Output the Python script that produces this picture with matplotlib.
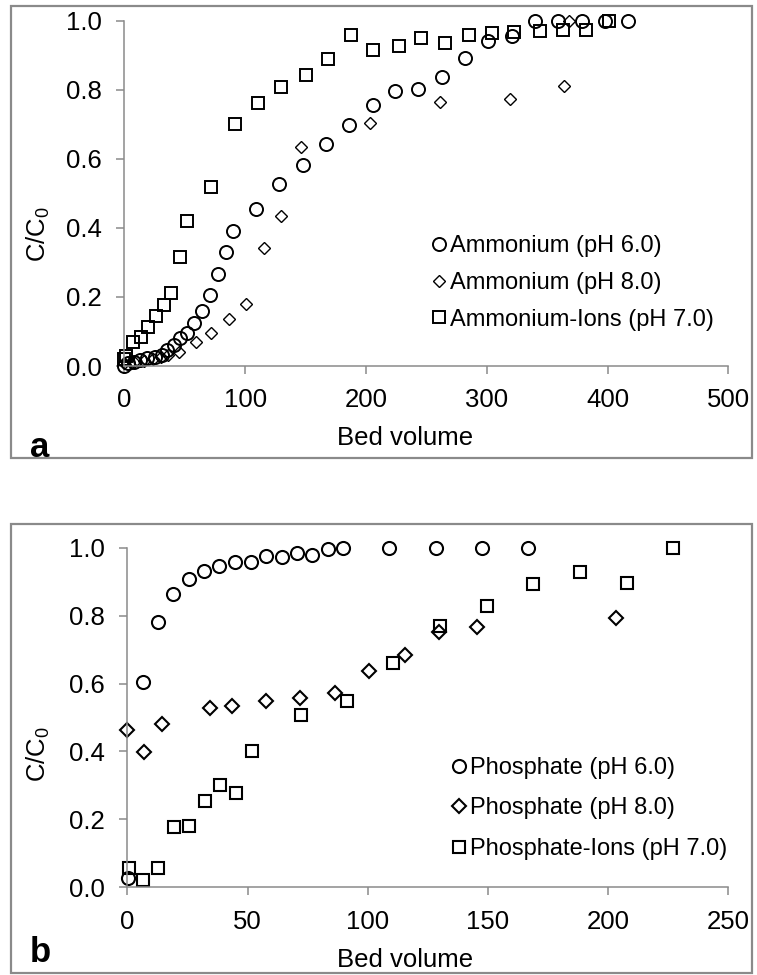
import matplotlib
matplotlib.use("Agg")
import matplotlib.pyplot as plt
from matplotlib.patches import Rectangle

plt.rcParams['font.family'] = ['Liberation Sans', 'DejaVu Sans']
plt.rcParams['mathtext.fontset'] = 'custom'
plt.rcParams['mathtext.rm'] = 'Liberation Sans'
plt.rcParams['mathtext.it'] = 'Liberation Sans:italic'

# ---------------- Panel a data ----------------
amm6_x = [0, 3, 8, 13, 19, 25, 31, 35, 41, 46, 52, 58, 64.6, 71, 77.6, 84, 89.7,
          109, 128, 147.7, 167, 186, 205.6, 224, 243, 263, 282, 301, 320.7,
          340, 359, 378.6, 398, 417]
amm6_y = [0.0, 0.008, 0.012, 0.017, 0.022, 0.027, 0.033, 0.045, 0.062, 0.08,
          0.097, 0.124, 0.16, 0.206, 0.266, 0.331, 0.392, 0.454, 0.527, 0.582,
          0.642, 0.698, 0.756, 0.797, 0.801, 0.836, 0.891, 0.942, 0.956,
          1.0, 1.0, 1.0, 1.0, 1.0]
amm8_x = [0, 8, 16, 24, 30, 36, 45, 59, 72, 87, 101, 115.6, 130, 146, 203, 261, 319, 364, 368]
amm8_y = [0.01, 0.012, 0.015, 0.02, 0.025, 0.032, 0.041, 0.07, 0.095, 0.136, 0.18,
          0.341, 0.434, 0.635, 0.705, 0.765, 0.773, 0.811, 1.0]
ions7_x = [0, 1.4, 7, 13.5, 20, 26, 33, 39, 46, 52, 72, 91.6, 111, 130, 150, 169,
           188, 206, 227, 246, 265.5, 285, 304, 323, 344, 363, 382, 401.5]
ions7_y = [0.02, 0.03, 0.07, 0.085, 0.114, 0.145, 0.177, 0.21, 0.317, 0.42, 0.517,
           0.70, 0.763, 0.809, 0.843, 0.888, 0.959, 0.915, 0.927, 0.949, 0.936,
           0.959, 0.963, 0.968, 0.971, 0.973, 0.973, 1.0]
labels_a = ["Ammonium (pH 6.0)", "Ammonium (pH 8.0)", "Ammonium-Ions (pH 7.0)"]
xticks_a = [0, 100, 200, 300, 400, 500]

# ---------------- Panel b data ----------------
p6_x = [0.4, 6.4, 12.9, 19.1, 25.7, 31.9, 38.3, 44.8, 51.3, 57.6, 64.2, 70.5, 77,
        83.6, 89.9, 109, 128.3, 147.4, 166.7]
p6_y = [0.026, 0.605, 0.782, 0.864, 0.907, 0.931, 0.947, 0.957, 0.959, 0.976,
        0.974, 0.983, 0.978, 0.995, 0.998, 1.0, 1.0, 1.0, 1.0]
p8_x = [0, 7.1, 14.6, 34.4, 43.4, 57.6, 71.8, 86.4, 100.7, 115.5, 129.8, 145.6, 203.3]
p8_y = [0.463, 0.397, 0.481, 0.527, 0.534, 0.549, 0.556, 0.571, 0.638, 0.684,
        0.753, 0.767, 0.792]
pi_x = [0.7, 6.7, 12.9, 19.4, 25.8, 32.3, 38.6, 45.2, 51.7, 72.1, 91.5, 110.7,
        130, 149.5, 168.9, 188.3, 207.7, 226.9]
pi_y = [0.056, 0.021, 0.056, 0.178, 0.18, 0.255, 0.301, 0.277, 0.401, 0.507,
        0.549, 0.66, 0.77, 0.828, 0.892, 0.928, 0.895, 0.998]
labels_b = ["Phosphate (pH 6.0)", "Phosphate (pH 8.0)", "Phosphate-Ions (pH 7.0)"]
xticks_b = [0, 50, 100, 150, 200, 250]
yticks = [0.0, 0.2, 0.4, 0.6, 0.8, 1.0]

W, H = 757, 975
fig = plt.figure(figsize=(W / 100, H / 100), dpi=100)

GRAY = '#8a8a8a'
FS = 18.5
LFS = 17


def frame(x0, y0, x1, y1):
    fig.add_artist(Rectangle((x0 / W, 1 - y1 / H), (x1 - x0) / W, (y1 - y0) / H,
                             transform=fig.transFigure, fill=False,
                             edgecolor=GRAY, lw=1.6))


def make_axes(left, right, top, bottom):
    return fig.add_axes([left / W, 1 - bottom / H, (right - left) / W, (bottom - top) / H])


def style(ax, xmax, xticks, xlab_pos, ylab_pos):
    ax.set_xlim(0, xmax)
    ax.set_ylim(0, 1.0)
    ax.set_xticks(xticks)
    ax.set_yticks(yticks)
    ax.set_yticklabels([f"{v:.1f}" for v in yticks])
    for s in ['top', 'right']:
        ax.spines[s].set_visible(False)
    for s in ['left', 'bottom']:
        ax.spines[s].set_color(GRAY)
        ax.spines[s].set_linewidth(1.1)
    ax.tick_params(direction='out', length=6, width=1.1, color=GRAY,
                   labelsize=FS, pad=10, labelcolor='black')
    ax.set_xlabel("Bed volume", fontsize=FS)
    ax.set_ylabel(r"C/C$_\mathregular{0}$", fontsize=FS)
    ax.xaxis.set_label_coords(*xlab_pos)
    ax.xaxis.label.set_va('center')
    ax.yaxis.set_label_coords(*ylab_pos)
    ax.yaxis.label.set_va('center')
    ax.patch.set_alpha(0)


# ---------------- Panel a ----------------
frame(11, 6, 752, 458)
axa = make_axes(124.3, 728.3, 20.7, 366)
kw = dict(linestyle='none', markerfacecolor='none', markeredgecolor='black', clip_on=False)
axa.plot(amm6_x, amm6_y, marker='o', markersize=9.4, markeredgewidth=1.4, label=labels_a[0], **kw)
axa.plot(amm8_x, amm8_y, marker='D', markersize=6.2, markeredgewidth=1.0, label=labels_a[1], **kw)
axa.plot(ions7_x, ions7_y, marker='s', markersize=9.0, markeredgewidth=1.4, label=labels_a[2], **kw)
style(axa, 500, xticks_a, ((405 - 124.3) / 604, (366 - 438) / 345.3),
      ((38 - 124.3) / 604, (366 - 234) / 345.3))
axa.legend(loc='upper left', bbox_to_anchor=((432 - 124.3) / 604, (366 - 235) / 345.3),
           frameon=False, fontsize=LFS, handlelength=0.6, handletextpad=0.15,
           labelspacing=0.63, borderpad=0, borderaxespad=0, markerscale=1.0)
fig.text(40 / W, 1 - 457 / H, 'a', fontsize=25, fontweight='heavy', ha='center', va='baseline')

# ---------------- Panel b ----------------
frame(11, 524, 752, 973)
axb = make_axes(127.3, 728.3, 547.7, 887.3)
axb.plot(p6_x, p6_y, marker='o', markersize=9.4, markeredgewidth=1.5, label=labels_b[0], **kw)
axb.plot(p8_x, p8_y, marker='D', markersize=7.6, markeredgewidth=1.5, label=labels_b[1], **kw)
axb.plot(pi_x, pi_y, marker='s', markersize=9.0, markeredgewidth=1.5, label=labels_b[2], **kw)
style(axb, 250, xticks_b, ((405 - 127.3) / 601, (887.3 - 960) / 339.6),
      ((38 - 127.3) / 601, (887.3 - 754) / 339.6))
axb.legend(loc='upper left', bbox_to_anchor=((452 - 127.3) / 601, (887.3 - 757) / 339.6),
           frameon=False, fontsize=LFS, handlelength=0.6, handletextpad=0.15,
           labelspacing=0.78, borderpad=0, borderaxespad=0, markerscale=1.0)
fig.text(40 / W, 1 - 962 / H, 'b', fontsize=25, fontweight='heavy', ha='center', va='baseline')

fig.savefig("out.png", dpi=100)
